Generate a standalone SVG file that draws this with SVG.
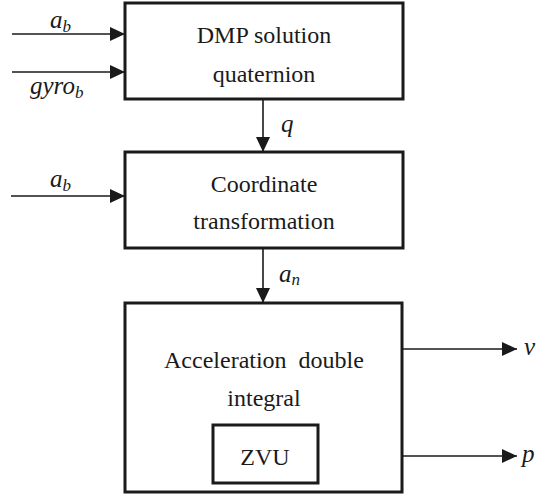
<svg xmlns="http://www.w3.org/2000/svg" width="538" height="494" viewBox="0 0 538 494">
  <defs>
    <marker id="arrow" viewBox="0 0 15 14" refX="15" refY="7" markerWidth="15" markerHeight="14" markerUnits="userSpaceOnUse" orient="auto">
      <path d="M0,0 L15,7 L0,14 Z" fill="#1a1a1a"/>
    </marker>
  </defs>
  <style>
    .box { fill: #ffffff; stroke: #1a1a1a; stroke-width: 3; }
    .line { stroke: #1a1a1a; stroke-width: 1.6; fill: none; marker-end: url(#arrow); }
    .label { font-size: 24px; text-anchor: middle; fill: #1a1a1a; }
    .math { font-style: italic; font-size: 25px; fill: #1a1a1a; }
    .sub { font-size: 17px; }
  </style>
  <rect width="538" height="494" fill="#ffffff"/>

  <g id="connectors" font-family="Liberation Serif, DejaVu Serif, serif">
    <line class="line" x1="12" y1="34" x2="125" y2="34"/>
    <line class="line" x1="12" y1="72" x2="125" y2="72"/>
    <line class="line" x1="263" y1="99" x2="263" y2="152"/>
    <line class="line" x1="11" y1="196" x2="125" y2="196"/>
    <line class="line" x1="263" y1="248" x2="263" y2="303"/>
    <line class="line" x1="403" y1="349" x2="517" y2="349"/>
    <line class="line" x1="403" y1="456" x2="517" y2="456"/>
    <text class="math" x="50" y="28">a<tspan class="sub" dy="4">b</tspan></text>
    <text class="math" x="30" y="94">gyro<tspan class="sub" dy="4">b</tspan></text>
    <text class="math" x="281" y="132">q</text>
    <text class="math" x="50" y="187">a<tspan class="sub" dy="4">b</tspan></text>
    <text class="math" x="279" y="282">a<tspan class="sub" dy="3">n</tspan></text>
    <text class="math" x="524" y="355">v</text>
    <text class="math" x="522" y="462">p</text>
  </g>

  <g id="dmp" font-family="Liberation Serif, DejaVu Serif, serif">
    <rect class="box" x="125" y="3" width="278" height="96"/>
    <text class="label" x="264" y="43">DMP solution</text>
    <text class="label" x="264" y="82">quaternion</text>
  </g>

  <g id="coordinate" font-family="Liberation Serif, DejaVu Serif, serif">
    <rect class="box" x="125" y="152" width="278" height="96"/>
    <text class="label" x="264" y="192">Coordinate</text>
    <text class="label" x="264" y="229">transformation</text>
  </g>

  <g id="integral" font-family="Liberation Serif, DejaVu Serif, serif">
    <rect class="box" x="125" y="303" width="277" height="189"/>
    <text class="label" x="264" y="368" xml:space="preserve">Acceleration  double</text>
    <text class="label" x="264" y="406">integral</text>
  </g>

  <g id="zvu" font-family="Liberation Serif, DejaVu Serif, serif">
    <rect class="box" x="213" y="425" width="105" height="58"/>
    <text class="label" x="265" y="465">ZVU</text>
  </g>
</svg>
